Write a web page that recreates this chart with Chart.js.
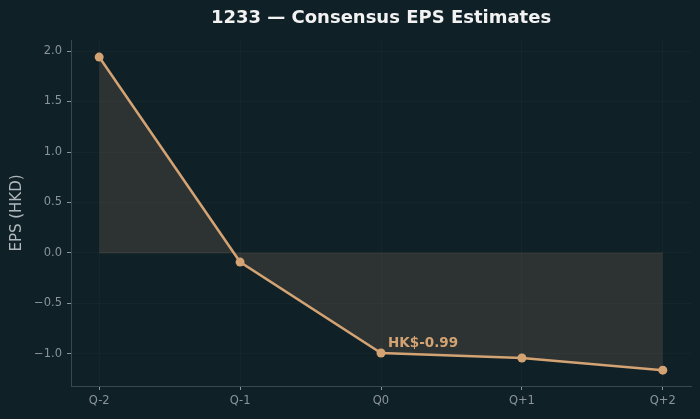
<!DOCTYPE html>
<html>
<head>
<meta charset="utf-8">
<script src="https://cdn.jsdelivr.net/npm/chart.js@4"></script>
<style>
  html, body { margin: 0; padding: 0; background: #0f2027; }
  #wrap { width: 700px; height: 419px; }
</style>
</head>
<body>
<div id="wrap"><canvas id="eps"></canvas></div>
<script>
const quarters = ['Q-2', 'Q-1', 'Q0', 'Q+1', 'Q+2'];
const epsValues = [1.94, -0.09, -0.99, -1.04, -1.16];
const yTicks = [-1.0, -0.5, 0.0, 0.5, 1.0, 1.5, 2.0];
const highlightIndex = 2;

const lineColor = '#d4a373';
const fillColor = 'rgba(212, 163, 115, 0.15)';
const tickColor = '#8a9499';

const overlay = {
    id: 'overlay',
    afterDraw(chart) {
        const ctx = chart.ctx;
        const x = chart.scales.x, y = chart.scales.y;
        ctx.save();
        // title
        ctx.fillStyle = '#f2f2f2';
        ctx.font = 'bold 18px "DejaVu Sans"';
        ctx.textAlign = 'center';
        ctx.textBaseline = 'middle';
        ctx.fillText('1233 \u2014 Consensus EPS Estimates', (chart.chartArea.left + chart.chartArea.right) / 2, 18);
        // y-axis title
        ctx.translate(17, (chart.chartArea.top + chart.chartArea.bottom) / 2);
        ctx.rotate(-Math.PI / 2);
        ctx.fillStyle = '#b0b8bc';
        ctx.font = '15px "DejaVu Sans"';
        ctx.fillText('EPS (HKD)', 0, 0);
        ctx.restore();
        // annotation
        ctx.save();
        const v = epsValues[highlightIndex];
        ctx.fillStyle = lineColor;
        ctx.font = 'bold 13.5px "DejaVu Sans"';
        ctx.textAlign = 'left';
        ctx.textBaseline = 'alphabetic';
        ctx.fillText('HK$' + v.toFixed(2), x.getPixelForValue(highlightIndex) + 7, y.getPixelForValue(v) - 6);
        ctx.restore();
    }
};

new Chart(document.getElementById('eps'), {
    type: 'line',
    data: {
        datasets: [{
            data: epsValues.map((v, i) => ({ x: i, y: v })),
            borderColor: lineColor,
            borderWidth: 2.5,
            backgroundColor: fillColor,
            fill: 'origin',
            pointRadius: 4.5,
            pointBackgroundColor: lineColor,
            pointBorderWidth: 0,
            tension: 0
        }, {
            data: epsValues.map((v, i) => ({ x: i, y: 0 })),
            borderColor: 'rgba(212, 163, 115, 0.12)',
            borderWidth: 1,
            pointRadius: 0,
            fill: false
        }]
    },
    options: {
        responsive: true,
        maintainAspectRatio: false,
        animation: false,
        layout: { padding: { top: 40, right: 9, left: 0, bottom: 0 } },
        plugins: { legend: { display: false }, tooltip: { enabled: false } },
        scales: {
            x: {
                type: 'linear',
                min: -0.2,
                max: 4.2,
                afterBuildTicks: s => { s.ticks = quarters.map((q, i) => ({ value: i })); },
                afterFit: s => { s.height = 33; },
                ticks: {
                    callback: v => quarters[v],
                    color: tickColor,
                    font: { family: 'DejaVu Sans', size: 11.5 },
                    padding: 4
                },
                grid: { color: 'rgba(255,255,255,0.025)', tickColor: '#8a9499', tickLength: 4 },
                border: { color: '#3c474d' }
            },
            y: {
                min: -1.317,
                max: 2.109,
                afterBuildTicks: s => { s.ticks = yTicks.map(v => ({ value: v })); },
                afterFit: s => { s.width = 71; },
                ticks: {
                    callback: v => v < 0 ? '\u2212' + Math.abs(v).toFixed(1) : v.toFixed(1),
                    color: tickColor,
                    font: { family: 'DejaVu Sans', size: 11.5 },
                    padding: 5
                },
                grid: { color: 'rgba(255,255,255,0.025)', tickColor: '#8a9499', tickLength: 4 },
                border: { color: '#3c474d' }
            }
        }
    },
    plugins: [overlay]
});
</script>
</body>
</html>
